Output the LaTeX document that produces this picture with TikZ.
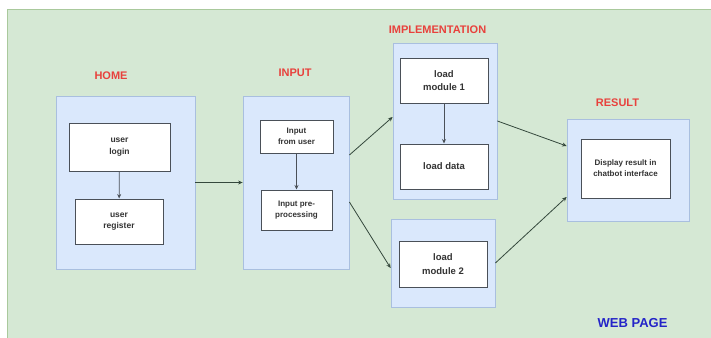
\documentclass[tikz,border=0pt]{standalone}
\usepackage{fontspec}
\setmainfont{Liberation Sans}
\usetikzlibrary{arrows.meta}
\definecolor{bggreen}{HTML}{D5E8D4}
\definecolor{bgline}{HTML}{A9C99C}
\definecolor{boxblue}{HTML}{DAE8FC}
\definecolor{boxline}{HTML}{A9BFDF}
\definecolor{labred}{HTML}{E8413C}
\definecolor{labblue}{HTML}{2424C8}
\definecolor{arrcol}{HTML}{34483C}
\definecolor{innerline}{HTML}{4A5058}
\tikzset{
  group/.style={draw=boxline, fill=boxblue, line width=0.8pt, inner sep=0pt},
  inbox/.style={draw=innerline, fill=white, line width=1pt, inner sep=1pt, align=center,
    font=\fontsize{8.5}{11.5}\selectfont\bfseries, text=black!80},
  title/.style={font=\fontsize{11}{13}\selectfont\bfseries, text=labred},
  flow/.style={draw=arrcol, line width=0.8pt, -{Stealth[length=4.5pt,width=4pt]}},
  innerflow/.style={draw=innerline, line width=0.8pt, -{Stealth[length=4.5pt,width=4pt]}}
}
\begin{document}
\begin{tikzpicture}[x=1pt,y=-1pt]
\useasboundingbox (0,0) rectangle (711,337);
\fill[white] (0,0) rectangle (711,337);
\draw[bgline, fill=bggreen, line width=0.8pt] (7,9) rectangle (713,339);

% group boxes
\node[group, minimum width=139pt, minimum height=173pt] (home) at (125.5,182.5) {};
\node[group, minimum width=106pt, minimum height=173pt] (input) at (296,182.5) {};
\node[group, minimum width=104pt, minimum height=156pt] (impl) at (445,121) {};
\node[group, minimum width=104pt, minimum height=88pt] (mtwo) at (443,263) {};
\node[group, minimum width=122pt, minimum height=102pt] (result) at (628,170) {};

% titles
\node[title] (thome) at (111,76) {HOME};
\node[title] (tinput) at (295,73) {INPUT};
\node[title] (timpl) at (437.5,30) {IMPLEMENTATION};
\node[title] (tresult) at (617.5,103) {RESULT};
\node[font=\fontsize{13}{15}\selectfont\bfseries, text=labblue] (tweb) at (632.5,323) {WEB PAGE};

% inner boxes
\node[inbox, minimum width=101pt, minimum height=48pt] (login) at (119.5,147) {user\\login};
\node[inbox, minimum width=88pt, minimum height=45pt] (register) at (119,221.5) {user\\register};
\node[inbox, minimum width=73pt, minimum height=33pt, font=\fontsize{8}{10.5}\selectfont\bfseries] (fromuser) at (296.5,136.5) {Input\\from user};
\node[inbox, minimum width=71pt, minimum height=40pt, font=\fontsize{8}{10.5}\selectfont\bfseries] (preproc) at (296.5,210) {Input pre-\\processing};
\node[inbox, minimum width=88pt, minimum height=45pt, font=\fontsize{9.5}{13.5}\selectfont\bfseries] (lmone) at (444,80.5) {load\\module 1};
\node[inbox, minimum width=88pt, minimum height=45pt, font=\fontsize{9.5}{13.5}\selectfont\bfseries] (ldata) at (444,166.5) {load data};
\node[inbox, minimum width=88pt, minimum height=46pt, font=\fontsize{9.5}{13.5}\selectfont\bfseries] (lmtwo) at (443,264) {load\\module 2};
\node[inbox, minimum width=89pt, minimum height=59pt, font=\fontsize{8}{11}\selectfont\bfseries] (display) at (625.5,168.5) {Display result in\\chatbot interface};

% inner arrows
\draw[innerflow] (login) -- (register);
\draw[innerflow] (fromuser) -- (preproc);
\draw[innerflow] (lmone) -- (ldata);

% flow arrows
\draw[flow] (home.east) -- (input.west);
\draw[flow] ([yshift=27.5pt]input.east) -- ([yshift=4pt]impl.west);
\draw[flow] ([yshift=-19.5pt]input.east) -- ([yshift=-5pt]mtwo.west);
\draw[flow] (impl.east) -- ([yshift=24pt]result.west);
\draw[flow] (mtwo.east) -- ([yshift=-27pt]result.west);
\end{tikzpicture}
\end{document}
